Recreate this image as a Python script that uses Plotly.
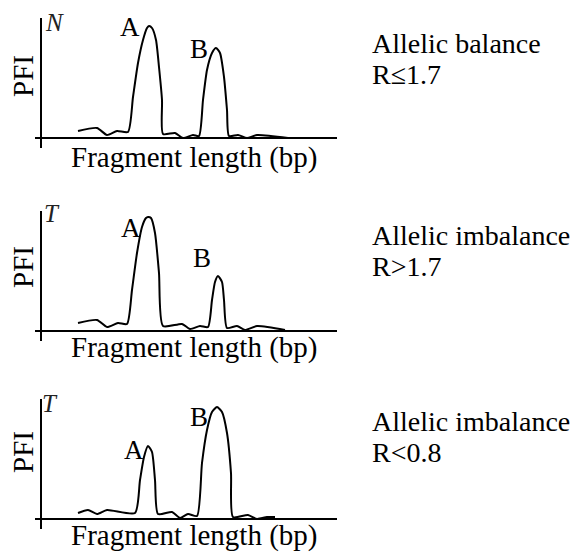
import plotly.graph_objects as go

W, H = 582, 556

# ---- data (fragment length in arbitrary units, PFI in arbitrary units) ----
n_len = [37, 56, 66, 76, 87, 92, 97, 102, 106, 108, 111, 115, 118, 121, 122, 134, 142, 152, 158,
         162, 166, 171, 175, 179, 183, 186, 188, 197, 206, 216, 247]
n_pfi = [7, 10, 3, 7, 6, 41, 75, 98, 110, 112, 110, 98, 71, 38, 4, 5, 0, 3, 2,
         38, 68, 85, 90, 85, 61, 28, 2, 3, 0, 3, 0]

t1_len = [37, 56, 66, 77, 86, 91, 96, 101, 105, 107, 110, 114, 118, 122, 141, 149, 159, 167,
          171, 174, 177, 181, 183, 186, 196, 204, 216, 244]
t1_pfi = [8, 11, 4, 8, 7, 41, 78, 104, 113, 114, 113, 98, 58, 5, 7, 2, 5, 4,
          31, 49, 55, 49, 31, 3, 5, 1, 5, 1]

t2_len = [37, 47, 56, 66, 94, 99, 103, 107, 111, 114, 117, 131, 139, 147, 156,
          161, 166, 171, 176, 181, 186, 190, 192, 207, 216, 226, 234]
t2_pfi = [6, 9, 5, 9, 6, 39, 62, 73, 67, 39, 5, 7, 1, 5, 3,
          56, 89, 107, 112, 107, 86, 46, 2, 4, 0, 2, 2]

series = [(n_len, n_pfi), (t1_len, t1_pfi), (t2_len, t2_pfi)]
sample_labels = ["N", "T", "T"]
peak_labels = ["A", "B"]
status_lines = [["Allelic balance", "R≤1.7"],
                ["Allelic imbalance", "R>1.7"],
                ["Allelic imbalance", "R<0.8"]]
x_title = "Fragment length (bp)"
y_title = "PFI"

# ---- layout helpers ----
FONT = "Liberation Serif"
panel_px = [(18, 148, 138), (211, 341, 331), (399, 529, 519)]  # top, bottom, baseline
x_px = (35, 337)

peak_pos = [[(89, 111), (158, 89)], [(90, 103), (161, 73)], [(93, 69), (158, 102)]]
sample_pos = [(13, 116), (11, 118), (9, 116)]
status_y = [(44, 74), (235, 266), (421, 452)]
ytitle_y = [76, 267, 452]
xtitle_y = [157, 347, 535]

fig = go.Figure()
ann = []
for i, ((xs, ys), (top, bot, base)) in enumerate(zip(series, panel_px)):
    k = "" if i == 0 else str(i + 1)
    fig.add_trace(go.Scatter(x=xs, y=ys, mode="lines", xaxis="x" + k, yaxis="y" + k,
                             line=dict(color="black", width=2, shape="spline", smoothing=0.6),
                             hoverinfo="skip", showlegend=False))
    ax = dict(domain=[x_px[0] / W, x_px[1] / W], range=[-6, 296], showgrid=False,
              showticklabels=False, ticks="", showline=False, zeroline=True,
              zerolinecolor="black", zerolinewidth=2, fixedrange=True)
    ay = dict(domain=[1 - bot / H, 1 - top / H], range=[-10, 120], showgrid=False,
              showticklabels=False, ticks="", showline=False, zeroline=True,
              zerolinecolor="black", zerolinewidth=2, fixedrange=True)
    if i > 0:
        ax["anchor"] = "y" + k
        ay["anchor"] = "x" + k
    fig.update_layout(**{"xaxis" + k: ax, "yaxis" + k: ay})

    for lab, (px_, py_) in zip(peak_labels, peak_pos[i]):
        ann.append(dict(x=px_, y=py_, xref="x" + k, yref="y" + k, text=lab, showarrow=False,
                        xanchor="center", yanchor="middle",
                        font=dict(family=FONT, size=27, color="black")))
    sx, sy = sample_pos[i]
    ann.append(dict(x=sx, y=sy, xref="x" + k, yref="y" + k, text="<i>%s</i>" % sample_labels[i],
                    xanchor="center", yanchor="middle",
                    showarrow=False, font=dict(family=FONT, size=25, color="#222")))
    # axis titles
    ann.append(dict(x=23 / W, y=1 - ytitle_y[i] / H, xref="paper", yref="paper", text=y_title,
                    xanchor="center", yanchor="middle",
                    textangle=-90, showarrow=False, font=dict(family=FONT, size=29, color="black")))
    ann.append(dict(x=69 / W, y=1 - xtitle_y[i] / H, xref="paper", yref="paper", text=x_title,
                    xanchor="left", yanchor="middle", showarrow=False,
                    font=dict(family=FONT, size=29, color="black")))
    for line, ly in zip(status_lines[i], status_y[i]):
        ann.append(dict(x=370 / W, y=1 - ly / H, xref="paper", yref="paper", text=line,
                        xanchor="left", yanchor="middle", showarrow=False,
                        font=dict(family=FONT, size=28, color="black")))

fig.update_layout(width=W, height=H, margin=dict(l=0, r=0, t=0, b=0),
                  plot_bgcolor="white", paper_bgcolor="white", annotations=ann,
                  showlegend=False)
fig.write_html("out.html", config={"displayModeBar": False},
               post_script="document.body.style.margin='0';document.body.style.overflow='hidden';")
